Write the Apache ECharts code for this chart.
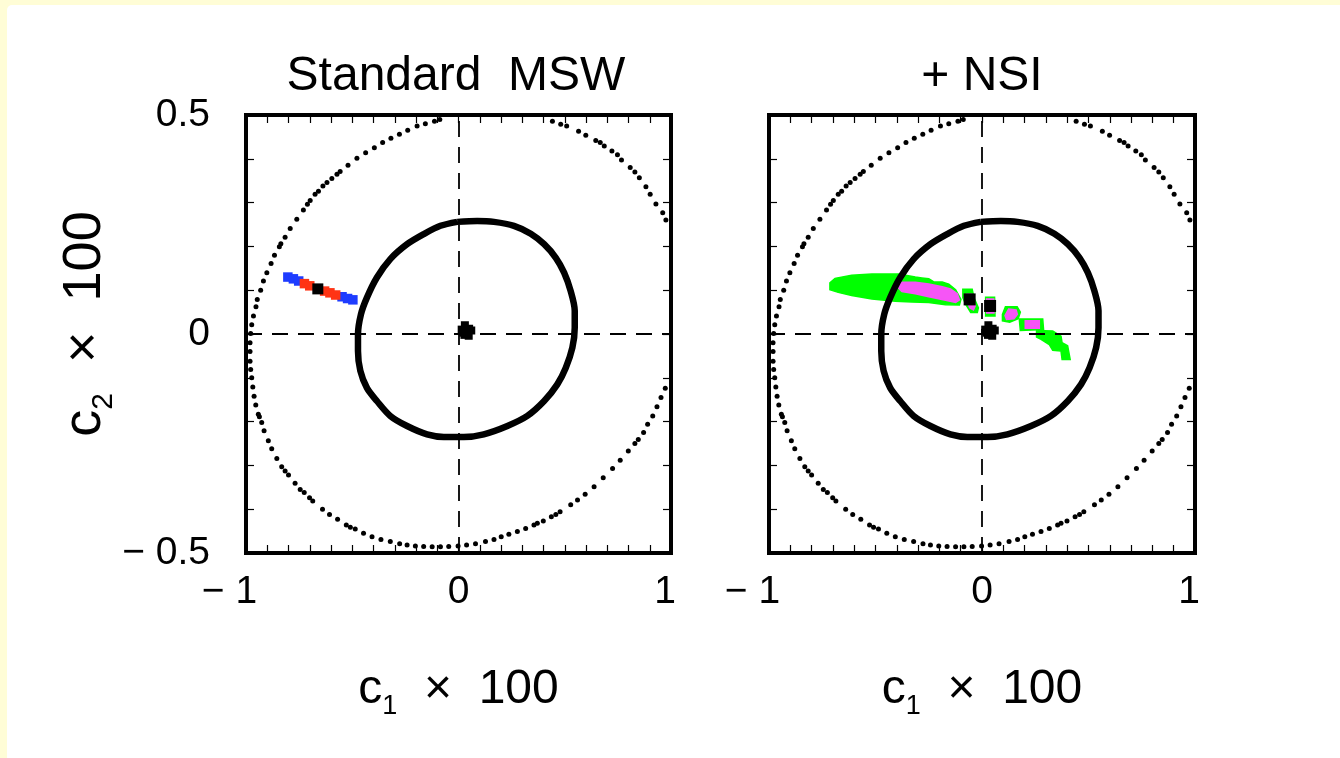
<!DOCTYPE html>
<html>
<head>
<meta charset="utf-8">
<script src="https://cdn.jsdelivr.net/npm/echarts@6/dist/echarts.min.js"></script>
<style>
  html, body { margin: 0; padding: 0; background: #fffdd6; }
  #paper { position: absolute; left: 7px; top: 5px; right: 0; bottom: 0; background: #fff; border-top-left-radius: 5px; }
  #chart { position: absolute; left: 0; top: 0; width: 1340px; height: 758px; }
</style>
</head>
<body>
<div id="paper"></div>
<div id="chart"></div>
<script>
// panel titles and tick labels
const panelTitles = ['Standard  MSW', '+ NSI'];
const xTickVals = [-1, 0, 1];
const xTickText = ['\u2212 1', '0', '1'];
const yTickVals = [-0.5, 0, 0.5];
const yTickText = ['\u2212 0.5', '0', '0.5'];

// outer dotted contour (same in both panels)
const dottedCircle = [
  [-0.088,0.490],[-0.113,0.486],[-0.156,0.480],[-0.195,0.475],[-0.239,0.465],[-0.278,0.456],[-0.318,0.447],
  [-0.357,0.437],[-0.396,0.425],[-0.437,0.414],[-0.478,0.401],[-0.520,0.385],[-0.557,0.371],[-0.572,0.365],
  [-0.596,0.355],[-0.619,0.346],[-0.638,0.338],[-0.659,0.326],[-0.675,0.319],[-0.698,0.305],[-0.711,0.296],
  [-0.730,0.283],[-0.761,0.262],[-0.792,0.241],[-0.816,0.221],[-0.836,0.206],[-0.843,0.199],[-0.866,0.180],
  [-0.882,0.161],[-0.902,0.140],[-0.918,0.121],[-0.931,0.100],[-0.947,0.079],[-0.953,0.062],[-0.965,0.041],
  [-0.973,0.021],[-0.978,0.001],[-0.981,-0.020],[-0.981,-0.040],[-0.981,-0.062],[-0.978,-0.081],[-0.973,-0.100],
  [-0.968,-0.121],[-0.962,-0.142],[-0.954,-0.162],[-0.942,-0.183],[-0.937,-0.189],[-0.926,-0.202],[-0.915,-0.221],
  [-0.895,-0.244],[-0.879,-0.262],[-0.855,-0.284],[-0.832,-0.303],[-0.816,-0.313],[-0.800,-0.322],[-0.769,-0.341],
  [-0.745,-0.355],[-0.726,-0.362],[-0.701,-0.374],[-0.686,-0.381],[-0.640,-0.400],[-0.607,-0.412],[-0.569,-0.423],
  [-0.528,-0.436],[-0.509,-0.441],[-0.486,-0.445],[-0.447,-0.455],[-0.407,-0.463],[-0.365,-0.469],[-0.321,-0.474],
  [-0.277,-0.479],[-0.242,-0.482],[-0.203,-0.484],[-0.164,-0.485],[-0.124,-0.486],[-0.085,-0.486],[-0.046,-0.485],
  [-0.002,-0.484],[0.038,-0.482],[0.080,-0.479],[0.127,-0.474],[0.167,-0.469],[0.201,-0.463],[0.237,-0.457],
  [0.277,-0.451],[0.316,-0.444],[0.355,-0.436],[0.371,-0.432],[0.399,-0.427],[0.437,-0.417],[0.458,-0.412],
  [0.478,-0.406],[0.528,-0.390],[0.560,-0.379],[0.596,-0.366],[0.638,-0.349],[0.681,-0.328],[0.725,-0.307],
  [0.761,-0.288],[0.799,-0.267],[0.830,-0.250],[0.846,-0.241],[0.871,-0.225],[0.890,-0.206],[0.914,-0.187],
  [0.934,-0.166],[0.953,-0.145],[0.973,-0.124],
  [0.442,0.486],[0.481,0.479],[0.509,0.475],[0.565,0.463],[0.599,0.454],[0.646,0.442],[0.667,0.437],
  [0.686,0.429],[0.722,0.418],[0.748,0.409],[0.767,0.397],[0.808,0.380],[0.830,0.370],[0.851,0.357],
  [0.882,0.336],[0.902,0.319],[0.929,0.297],[0.961,0.277],[0.976,0.260]
];

// thick inner contour (closed)
const ringPts = [
  [-0.006,0.256],[0.088,0.258],[0.167,0.256],[0.261,0.247],[0.340,0.229],[0.403,0.205],[0.458,0.174],
  [0.497,0.140],[0.528,0.098],[0.547,0.053],[0.547,0.014],[0.536,-0.031],[0.505,-0.077],[0.465,-0.115],
  [0.403,-0.153],[0.324,-0.187],[0.230,-0.210],[0.119,-0.229],[0.025,-0.235],[-0.069,-0.235],[-0.148,-0.229],
  [-0.242,-0.210],[-0.321,-0.187],[-0.384,-0.153],[-0.431,-0.123],[-0.462,-0.084],[-0.473,-0.039],[-0.473,-0.001],
  [-0.459,0.045],[-0.431,0.083],[-0.384,0.129],[-0.321,0.171],[-0.242,0.205],[-0.164,0.228],[-0.085,0.247],
  [-0.006,0.256]
];

// star-like blob near the origin
const starPts = [[0.015,0.010],[0.030,0.020],[0.050,0.012],[0.028,-0.002],[0.048,-0.004],
                 [0.038,0.008],[0.060,0.008],[0.022,0.003]];

// standard MSW band
const bandBlue = [[-0.803,0.130],[-0.777,0.126],[-0.752,0.121],[-0.548,0.085],[-0.522,0.081],[-0.497,0.078]];
const bandRed = [[-0.725,0.115],[-0.700,0.110],[-0.630,0.098],[-0.605,0.094],[-0.578,0.089]];
const mswBest = [[-0.662,0.103]];

// NSI regions
const greenPolys = [
  [[-0.714,0.117],[-0.690,0.127],[-0.612,0.134],[-0.517,0.137],[-0.392,0.137],[-0.313,0.130],[-0.282,0.128],
   [-0.250,0.126],[-0.226,0.119],[-0.187,0.119],[-0.156,0.114],[-0.124,0.101],[-0.099,0.079],[-0.106,0.066],
   [-0.171,0.067],[-0.250,0.072],[-0.329,0.073],[-0.407,0.075],[-0.517,0.080],[-0.612,0.088],[-0.675,0.095],
   [-0.714,0.101]],
  [[-0.090,0.102],[-0.046,0.102],[-0.038,0.083],[-0.017,0.060],[-0.022,0.049],[-0.053,0.049],[-0.077,0.068],[-0.090,0.083]],
  [[0.017,0.084],[0.059,0.084],[0.061,0.041],[0.017,0.041]],
  [[0.110,0.062],[0.165,0.062],[0.180,0.050],[0.170,0.035],[0.130,0.027],[0.096,0.030],[0.096,0.045]],
  [[0.175,0.034],[0.285,0.034],[0.289,0.010],[0.180,0.008]],
  [[0.256,0.008],[0.332,0.007],[0.371,-0.005],[0.376,-0.020],[0.402,-0.027],[0.414,-0.058],[0.376,-0.058],
   [0.371,-0.039],[0.332,-0.037],[0.316,-0.024],[0.277,-0.012],[0.256,-0.007]]
];
const pinkPolys = [
  [[-0.384,0.118],[-0.313,0.118],[-0.250,0.114],[-0.187,0.108],[-0.148,0.103],[-0.116,0.092],[-0.106,0.078],
   [-0.124,0.072],[-0.171,0.077],[-0.250,0.085],[-0.313,0.092],[-0.376,0.097],[-0.394,0.106]],
  [[-0.073,0.091],[-0.048,0.091],[-0.032,0.064],[-0.040,0.055],[-0.058,0.060],[-0.073,0.080]],
  [[0.022,0.080],[0.055,0.080],[0.056,0.048],[0.022,0.048]],
  [[0.125,0.057],[0.160,0.055],[0.166,0.045],[0.150,0.035],[0.115,0.033],[0.108,0.042]],
  [[0.203,0.030],[0.269,0.030],[0.269,0.013],[0.203,0.013]]
];
const nsiBest = [[-0.058,0.079],[0.038,0.064]];

const FONT = 'Liberation Sans';
const near = (a, b) => Math.abs(a - b) < 1e-6;

function xLabel(v) {
  for (let i = 0; i < xTickVals.length; i++) {
    if (near(v, xTickVals[i])) {
      if (xTickVals[i] < 0) return '{neg|' + xTickText[i] + '}';
      if (xTickVals[i] > 0) return '{pos|' + xTickText[i] + '}';
      return xTickText[i];
    }
  }
  return '';
}
function yLabel(v) {
  for (let i = 0; i < yTickVals.length; i++) {
    if (near(v, yTickVals[i])) return yTickText[i];
  }
  return '';
}

const tick = { show: true, inside: true, length: 8, lineStyle: { color: '#000', width: 1.2 } };

function xAx(gi, pos) {
  const a = {
    type: 'value', gridIndex: gi, position: pos, min: -1, max: 1, interval: 0.1,
    axisLine: { show: false, onZero: false }, axisTick: tick, splitLine: { show: false },
    axisLabel: { show: false }
  };
  if (pos === 'bottom') {
    a.axisLabel = {
      show: true, margin: 20, formatter: xLabel, color: '#000', fontFamily: FONT, fontSize: 39,
      rich: {
        neg: { fontFamily: FONT, fontSize: 39, color: '#000', padding: [0, 33, 0, 0] },
        pos: { fontFamily: FONT, fontSize: 39, color: '#000', padding: [0, 12, 0, 0] }
      }
    };
    a.name = '{m|c}{s|1}{m|  \u00d7  100}';
    a.nameLocation = 'middle';
    a.nameGap = 107;
    a.nameTextStyle = {
      rich: {
        m: { fontFamily: FONT, fontSize: 48, color: '#000', lineHeight: 60 },
        s: { fontFamily: FONT, fontSize: 27, color: '#000', lineHeight: 27, verticalAlign: 'bottom' }
      }
    };
  }
  return a;
}
function yAx(gi, pos, withName) {
  const a = {
    type: 'value', gridIndex: gi, position: pos, min: -0.5, max: 0.5, interval: 0.1,
    axisLine: { show: false, onZero: false }, axisTick: tick, splitLine: { show: false },
    axisLabel: { show: false }
  };
  if (pos === 'left' && withName) {
    a.axisLabel = { show: true, margin: 36, formatter: yLabel, color: '#000', fontFamily: FONT, fontSize: 39 };
    a.name = '{m|c}{s|2}{m|  \u00d7  100}';
    a.nameLocation = 'middle';
    a.nameGap = 113;
    a.nameTextStyle = {
      padding: [0, 0, 0, 20],
      rich: {
        m: { fontFamily: FONT, fontSize: 54, color: '#000', lineHeight: 66 },
        s: { fontFamily: FONT, fontSize: 30, color: '#000', lineHeight: 30, verticalAlign: 'bottom' }
      }
    };
  }
  return a;
}

function polySeries(polys, color, ai, z) {
  return {
    type: 'custom', xAxisIndex: ai, yAxisIndex: ai, z: z, clip: true, silent: true,
    data: polys.map((p, i) => [p[0][0], p[0][1], i]),
    renderItem: function (params, api) {
      const pts = polys[api.value(2)].map(pt => api.coord(pt));
      return { type: 'polygon', shape: { points: pts }, style: { fill: color, stroke: color, lineWidth: 1.5 } };
    }
  };
}

function squares(ai, data, size, color, z) {
  return {
    type: 'scatter', xAxisIndex: ai, yAxisIndex: ai, z: z, silent: true, data: data,
    symbol: 'rect', symbolSize: size, itemStyle: { color: color, opacity: 1 }
  };
}

function commonSeries(ai) {
  return [
    {
      type: 'scatter', xAxisIndex: ai, yAxisIndex: ai, z: 2, silent: true,
      data: dottedCircle, symbol: 'circle', symbolSize: 5, itemStyle: { color: '#000', opacity: 1 }
    },
    {
      type: 'line', xAxisIndex: ai, yAxisIndex: ai, z: 4, silent: true, data: [],
      markLine: {
        silent: true, symbol: ['none', 'none'], label: { show: false },
        lineStyle: { color: '#000', type: [16, 10], width: 1.8 },
        data: [{ xAxis: 0 }, { yAxis: 0 }]
      }
    },
    {
      type: 'line', xAxisIndex: ai, yAxisIndex: ai, z: 5, silent: true, data: ringPts,
      showSymbol: false, smooth: 0.3, lineStyle: { color: '#000', width: 6.5 }
    },
    squares(ai, starPts, 8, '#000', 6)
  ];
}

const series = [].concat(
  commonSeries(0),
  [
    squares(0, bandBlue, 9.5, '#1e3cff', 7),
    squares(0, bandRed, 9.5, '#ff3414', 7),
    squares(0, mswBest, 11, '#000', 8)
  ],
  commonSeries(2),
  [
    polySeries(greenPolys, '#00ff00', 2, 2),
    polySeries(pinkPolys, '#f655f6', 2, 3),
    squares(2, nsiBest, 12, '#000', 8)
  ]
);

const chart = echarts.init(document.getElementById('chart'), null, { renderer: 'canvas' });
chart.setOption({
  animation: false,
  title: panelTitles.map((t, i) => ({
    text: t, left: i === 0 ? 456 : 982, top: 53, textAlign: 'center', padding: 0,
    textStyle: { fontFamily: FONT, fontSize: 48, fontWeight: 'normal', color: '#000' }
  })),
  grid: [
    { left: 246, top: 115, width: 425, height: 438, show: true, borderColor: '#000', borderWidth: 4 },
    { left: 769, top: 115, width: 426, height: 438, show: true, borderColor: '#000', borderWidth: 4 }
  ],
  xAxis: [xAx(0, 'bottom'), xAx(0, 'top'), xAx(1, 'bottom'), xAx(1, 'top')],
  yAxis: [yAx(0, 'left', true), yAx(0, 'right'), yAx(1, 'left', false), yAx(1, 'right')],
  series: series
});
</script>
</body>
</html>
